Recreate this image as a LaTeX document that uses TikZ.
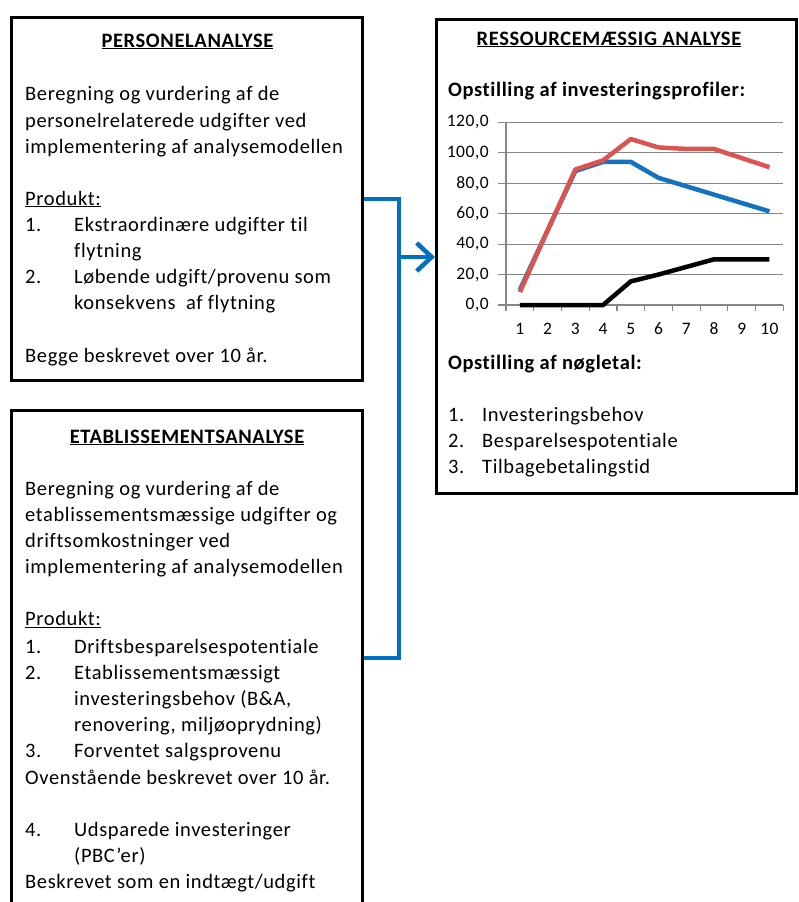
\documentclass[tikz,border=0pt]{standalone}
\usepackage{fontspec}
\setmainfont{Carlito}[LetterSpace=3, Ligatures=NoCommon]
\usetikzlibrary{arrows.meta}
\definecolor{linkblue}{RGB}{0,112,192}
\definecolor{seriesblue}{RGB}{20,114,190}
\definecolor{seriesred}{RGB}{220,84,80}
\definecolor{gridgray}{RGB}{134,134,134}
\tikzset{
  panel/.style={draw, line width=3pt, inner sep=0pt},
  txt/.style={anchor=base west, inner sep=0pt, font=\fontsize{20.5}{24}\selectfont},
  head/.style={anchor=base, inner sep=0pt, font=\fontsize{20.5}{24}\selectfont\bfseries},
  subhead/.style={txt, font=\fontsize{20.5}{24}\selectfont\bfseries},
  ylab/.style={anchor=east, inner sep=0pt, font=\fontsize{17.5}{20}\selectfont},
  xlab/.style={anchor=base, inner sep=0pt, font=\fontsize{17.5}{20}\selectfont},
  grid line/.style={gridgray, line width=1.2pt},
  series/.style={line width=4.5pt, line join=round},
  link/.style={linkblue, line width=4pt},
  link arrow/.style={link, -{Straight Barb[length=15pt, width=28pt, line width=4.5pt]}}
}

\begin{document}
\begin{tikzpicture}[x=1pt, y=-1pt]
  \useasboundingbox (0,0) rectangle (798,902);

  % the three panels
  \node[panel, minimum width=351pt, minimum height=363pt] (pers) at (186.5,198.5) {};
  \node[panel, minimum width=351pt, minimum height=496pt] (etab) at (186.5,658) {};
  \node[panel, minimum width=360pt, minimum height=474pt] (ress) at (616.5,256) {};

  % bracket joining the two left panels, arrow into the right one
  \coordinate (bend) at (399,257);
  \draw[link] (pers.east) -| (bend) |- (etab.east);
  \draw[link arrow] (bend) -- (bend -| ress.west);

  % Personelanalyse
  \node[head] (persT) at (187.5,47) {\underline{PERSONELANALYSE}};
  \node[txt] (persA) at (25,100) {Beregning og vurdering af de};
  \node[txt] (persB) at (25,127) {personelrelaterede udgifter ved};
  \node[txt] (persC) at (25,153) {implementering af analysemodellen};
  \node[txt] (persP) at (25,205) {\underline{Produkt:}};
  \node[txt] (persN1) at (25,231) {1.};
  \node[txt] (persI1) at (74,231) {Ekstraordinære udgifter til};
  \node[txt] (persI1b) at (74,257) {flytning};
  \node[txt] (persN2) at (25,283) {2.};
  \node[txt] (persI2) at (74,283) {Løbende udgift/provenu som};
  \node[txt] (persI2b) at (74,309.5) {konsekvens \ af flytning};
  \node[txt] (persD) at (25,362) {Begge beskrevet over 10 år.};

  % Etablissementsanalyse
  \node[head] (etabT) at (187,443) {\underline{ETABLISSEMENTSANALYSE}};
  \node[txt] (etabA) at (25,495) {Beregning og vurdering af de};
  \node[txt] (etabB) at (25,521.5) {etablissementsmæssige udgifter og};
  \node[txt] (etabC) at (25,547.5) {driftsomkostninger ved};
  \node[txt] (etabD) at (25,573.5) {implementering af analysemodellen};
  \node[txt] (etabP) at (25,625.5) {\underline{Produkt:}};
  \node[txt] (etabN1) at (25,653) {1.};
  \node[txt] (etabI1) at (74,653) {Driftsbesparelsespotentiale};
  \node[txt] (etabN2) at (25,679) {2.};
  \node[txt] (etabI2) at (74,679) {Etablissementsmæssigt};
  \node[txt] (etabI2b) at (74,705) {investeringsbehov (B\&A,};
  \node[txt] (etabI2c) at (74,731) {renovering, miljøoprydning)};
  \node[txt] (etabN3) at (25,757.5) {3.};
  \node[txt] (etabI3) at (74,757.5) {Forventet salgsprovenu};
  \node[txt] (etabE) at (25,784) {Ovenstående beskrevet over 10 år.};
  \node[txt] (etabN4) at (25,836.5) {4.};
  \node[txt] (etabI4) at (74,836.5) {Udsparede investeringer};
  \node[txt] (etabI4b) at (74,862.5) {(PBC’er)};
  \node[txt] (etabF) at (25,888.5) {Beskrevet som en indtægt/udgift};

  % Ressourcemaessig analyse
  \node[head] (ressT) at (609,45) {\underline{RESSOURCEMÆSSIG ANALYSE}};
  \node[subhead] (ressS1) at (448,96.5) {Opstilling af investeringsprofiler:};
  \node[subhead] (ressS2) at (448,369) {Opstilling af nøgletal:};
  \node[txt] (ressN1) at (448,421) {1.};
  \node[txt] (ressI1) at (482,421) {Investeringsbehov};
  \node[txt] (ressN2) at (448,447.5) {2.};
  \node[txt] (ressI2) at (482,447.5) {Besparelsespotentiale};
  \node[txt] (ressN3) at (448,473.5) {3.};
  \node[txt] (ressI3) at (482,473.5) {Tilbagebetalingstid};

  % chart: grid, axes, labels
  \foreach \v in {0,20,...,120} {
    \draw[grid line] (498,{305-1.5225*\v}) -- (783,{305-1.5225*\v});
    \node[ylab] (yl\v) at (489,{305-1.5225*\v}) {\v,0};
  }
  \draw[grid line] (506,122.3) -- (506,311);
  \foreach \i in {1,...,10} {
    \draw[grid line] ({506+27.73*\i},305) -- ({506+27.73*\i},311);
    \node[xlab] (xl\i) at ({506+27.73*(\i-0.5)},334) {\i};
  }

  % chart: the three profiles
  \begin{scope}[xshift=506pt, yshift=-305pt, x=27.73pt, y=1.5225pt]
    \draw[series, black] plot coordinates {(0.5,0) (1.5,0) (2.5,0) (3.5,0) (4.5,15.5) (5.5,20) (6.5,25) (7.5,30) (8.5,30) (9.5,30)};
    \draw[series, seriesblue] plot coordinates {(0.5,10) (1.5,49) (2.5,88) (3.5,94) (4.5,94) (5.5,83.5) (6.5,78) (7.5,72.5) (8.5,67) (9.5,61.5)};
    \draw[series, seriesred] plot coordinates {(0.5,8.5) (1.5,49) (2.5,89) (3.5,95) (4.5,109) (5.5,103.5) (6.5,102.5) (7.5,102.5) (8.5,96.5) (9.5,90.5)};
  \end{scope}

\end{tikzpicture}
\end{document}
